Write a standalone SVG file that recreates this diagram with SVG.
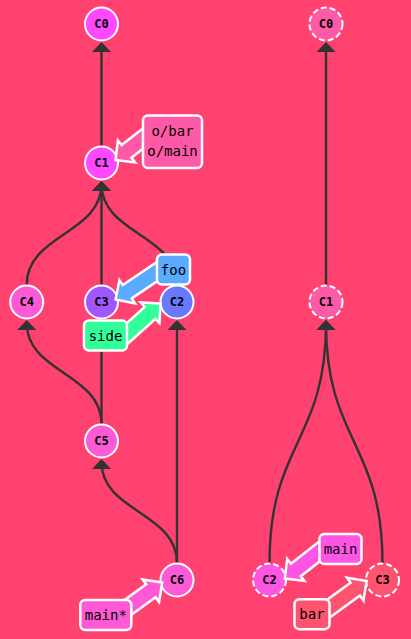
<svg xmlns="http://www.w3.org/2000/svg" xmlns:xlink="http://www.w3.org/1999/xlink" width="411" height="639" viewBox="0 0 411 639">
<style>
.edge{fill:none;stroke:#333;stroke-width:2.4;marker-end:url(#ah)}
.node circle{stroke:#fff;stroke-width:2}
.dashed circle{stroke-dasharray:6 3}
.node text{font-family:"DejaVu Sans Mono",monospace;font-weight:bold;font-size:12px;text-anchor:middle;fill:#000}
.branch rect{stroke:#fff;stroke-width:2.5}
.arw{stroke:#fff;stroke-width:2.5;stroke-linejoin:miter}
.branch text{font-family:"DejaVu Sans Mono",monospace;font-size:14px;text-anchor:middle;fill:#000}
</style>
<defs>
<marker id="ah" markerUnits="userSpaceOnUse" viewBox="-11 -10 12 20" markerWidth="12" markerHeight="20" refX="-3" refY="0" orient="auto"><path d="M0 0 L-10 -9.5 L-10 9.5 Z" fill="#333"/></marker>
<polygon id="arr" points="0,0 -14,-14 -14,-8 -58,-8 -58,8 -14,8 -14,14"/>
</defs>
<rect width="411" height="639" fill="#ff4270"/>
<g id="connectors">
<path class="edge" d="M101.5 146 L101.5 45"/>
<path class="edge" d="M101.5 285 L101.5 184"/>
<path class="edge" d="M26.7 285 C26.7 234 101.5 234 101.5 184"/>
<path class="edge" d="M177 285 C177 234 101.5 234 101.5 184"/>
<path class="edge" d="M101.5 424 L101.5 323"/>
<path class="edge" d="M101.5 424 C101.5 373 26.7 373 26.7 323"/>
<path class="edge" d="M177 563 C177 512 101.5 512 101.5 462"/>
<path class="edge" d="M177 563 L177 323"/>
<path class="edge" d="M326 285 L326 45"/>
<path class="edge" d="M269.5 563 C269.5 442 326 442 326 323"/>
<path class="edge" d="M382.5 563 C382.5 442 326 442 326 323"/>
</g>
<g id="l-c0" class="node"><circle cx="101.5" cy="24" r="16.5" fill="#ff48ff"/><text x="101.5" y="28.3">C0</text></g>
<g id="l-c1" class="node"><circle cx="101.5" cy="163" r="16.5" fill="#ff48ff"/><text x="101.5" y="167.3">C1</text></g>
<g id="l-c4" class="node"><circle cx="26.7" cy="302" r="16.5" fill="#ff5ad6"/><text x="26.7" y="306.3">C4</text></g>
<g id="l-c3" class="node"><circle cx="101.5" cy="302" r="16.5" fill="#a057ff"/><text x="101.5" y="306.3">C3</text></g>
<g id="l-c2" class="node"><circle cx="177" cy="302" r="16.5" fill="#6a78ff"/><text x="177" y="306.3">C2</text></g>
<g id="l-c5" class="node"><circle cx="101.5" cy="441" r="16.5" fill="#ff5ad6"/><text x="101.5" y="445.3">C5</text></g>
<g id="l-c6" class="node"><circle cx="177" cy="580" r="16.5" fill="#ff5ad6"/><text x="177" y="584.3">C6</text></g>
<g id="r-c0" class="node dashed"><circle cx="326" cy="24" r="16.5" fill="#ff5aa8"/><text x="326" y="28.3">C0</text></g>
<g id="r-c1" class="node dashed"><circle cx="326" cy="302" r="16.5" fill="#ff5aa8"/><text x="326" y="306.3">C1</text></g>
<g id="r-c2" class="node dashed"><circle cx="269.5" cy="580" r="16.5" fill="#ff55e5"/><text x="269.5" y="584.3">C2</text></g>
<g id="r-c3" class="node dashed"><circle cx="382.5" cy="580" r="16.5" fill="#ff5470"/><text x="382.5" y="584.3">C3</text></g>
<g id="b-obar" class="branch"><use href="#arr" xlink:href="#arr" class="arw" fill="#ff5aa8" transform="translate(115.5 160) rotate(142)"/><rect x="143" y="115.5" width="59" height="52.5" rx="5" fill="#ff5aa8"/><text x="172.5" y="135.5">o/bar</text><text x="172.5" y="155.5">o/main</text></g>
<g id="b-foo" class="branch"><use href="#arr" xlink:href="#arr" class="arw" fill="#5aabff" transform="translate(115.6 299.6) rotate(146)"/><rect x="157" y="254.5" width="33" height="30" rx="5" fill="#5aabff"/><text x="173.5" y="274.5">foo</text></g>
<g id="b-side" class="branch"><use href="#arr" xlink:href="#arr" class="arw" fill="#30ff9a" transform="translate(160.5 303.5) rotate(-42)"/><rect x="84" y="320.5" width="43" height="30" rx="5" fill="#30ff9a"/><text x="105.5" y="340.5">side</text></g>
<g id="b-main-star" class="branch"><use href="#arr" xlink:href="#arr" class="arw" fill="#ff5ad6" transform="translate(162.2 582.5) rotate(-36)"/><rect x="80.3" y="600" width="51" height="30" rx="5" fill="#ff5ad6"/><text x="105.8" y="620">main*</text></g>
<g id="b-main" class="branch"><use href="#arr" xlink:href="#arr" class="arw" fill="#ff55e5" transform="translate(284.8 578.6) rotate(142)"/><rect x="319.5" y="534" width="42" height="30" rx="5" fill="#ff55e5"/><text x="340.5" y="554">main</text></g>
<g id="b-bar" class="branch"><use href="#arr" xlink:href="#arr" class="arw" fill="#ff5470" transform="translate(366.6 580.9) rotate(-36)"/><rect x="294.5" y="599.2" width="35" height="30" rx="5" fill="#ff5470"/><text x="312" y="619.2">bar</text></g>
</svg>
